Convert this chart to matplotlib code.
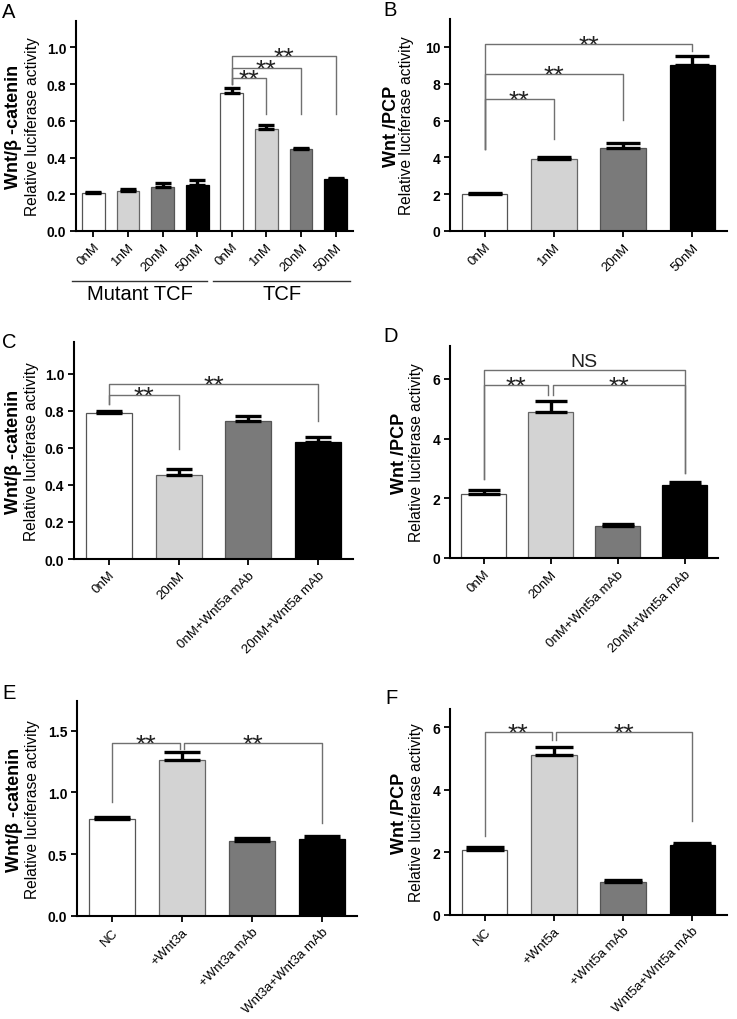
import matplotlib
matplotlib.use('Agg')
import matplotlib.pyplot as plt
from matplotlib.transforms import ScaledTranslation, blended_transform_factory

plt.rcParams['font.family'] = ['Liberation Sans', 'DejaVu Sans']

# ---- data ----
A_labels = ['0nM', '1nM', '20nM', '50nM', '0nM', '1nM', '20nM', '50nM']
A_values = [0.207, 0.22, 0.24, 0.253, 0.753, 0.558, 0.444, 0.284]
A_errors = [0.006, 0.01, 0.02, 0.023, 0.027, 0.022, 0.007, 0.006]
A_groups = ['Mutant TCF', 'TCF']

B_labels = ['0nM', '1nM', '20nM', '50nM']
B_values = [2.0, 3.91, 4.49, 9.0]
B_errors = [0.05, 0.11, 0.29, 0.5]

C_labels = ['0nM', '20nM', '0nM+Wnt5a mAb', '20nM+Wnt5a mAb']
C_values = [0.786, 0.454, 0.742, 0.629]
C_errors = [0.014, 0.029, 0.027, 0.029]

D_labels = ['0nM', '20nM', '0nM+Wnt5a mAb', '20nM+Wnt5a mAb']
D_values = [2.15, 4.89, 1.06, 2.46]
D_errors = [0.12, 0.38, 0.09, 0.09]

E_labels = ['NC', '+Wnt3a', '+Wnt3a mAb', 'Wnt3a+Wnt3a mAb']
E_values = [0.786, 1.265, 0.608, 0.622]
E_errors = [0.019, 0.059, 0.024, 0.027]

F_labels = ['NC', '+Wnt5a', '+Wnt5a mAb', 'Wnt5a+Wnt5a mAb']
F_values = [2.07, 5.11, 1.05, 2.24]
F_errors = [0.09, 0.27, 0.07, 0.06]

# significance brackets: (bar i, bar j, height, left leg bottom, right leg bottom, text)
A_sig = [(4, 5, 0.836, 0.80, 0.64, '**'), (4, 6, 0.89, 0.80, 0.64, '**'), (4, 7, 0.953, 0.80, 0.64, '**')]
B_sig = [(0, 1, 7.18, 4.45, 5.0, '**'), (0, 2, 8.53, 4.45, 6.05, '**'), (0, 3, 10.18, 4.45, 9.76, '**')]
C_sig = [(0, 1, 0.886, 0.838, 0.595, '**'), (0, 3, 0.946, 0.838, 0.742, '**')]
D_sig = [(0, 1, 5.81, 2.66, 5.47, '**'), (1, 3, 5.81, 5.47, 2.83, '**'), (0, 3, 6.31, 2.66, 2.83, 'NS')]
E_sig = [(0, 1, 1.403, 0.919, 1.351, '**'), (1, 3, 1.403, 1.351, 0.754, '**')]
F_sig = [(0, 1, 5.86, 2.53, 5.59, '**'), (1, 3, 5.86, 5.59, 3.01, '**')]

bar_colors = ['white', '#d3d3d3', '#7a7a7a', 'black']
edge_colors = ['#555555', '#666666', '#555555', 'black']

W, H = 737, 1020
fig = plt.figure(figsize=(W / 100, H / 100), dpi=100)


def add_axes(l, t, r, b):
    return fig.add_axes([l / W, 1 - b / H, (r - l) / W, (b - t) / H])


def panel(ax, labels, values, errors, ylim, yticks, fmt, capsize, top, off1, off2):
    n = len(values)
    x = list(range(n))
    cols = [bar_colors[i % 4] for i in x]
    ecols = [edge_colors[i % 4] for i in x]
    ax.bar(x, values, width=0.66, color=cols, edgecolor=ecols, linewidth=0.9, zorder=2)
    ax.errorbar(x, values, yerr=[[0] * n, errors], fmt='none', ecolor='black',
                elinewidth=2.4, capsize=capsize, capthick=2.4, zorder=3)
    ax.set_xlim(-0.5, n - 0.5)
    ax.set_ylim(0, ylim)
    ax.set_yticks(yticks)
    ax.set_yticklabels([fmt.format(v) for v in yticks], fontweight='bold', fontsize=10)
    ax.set_xticks(x)
    ax.set_xticklabels(labels, rotation=45, ha='right', rotation_mode='anchor', fontsize=9.5)
    for s in ['top', 'right']:
        ax.spines[s].set_visible(False)
    for s in ['left', 'bottom']:
        ax.spines[s].set_linewidth(1.5)
    ax.tick_params(width=1.3, length=4, pad=3)
    ax.text(0, 0.5, top, transform=ax.transAxes + ScaledTranslation(-off1 / 100, 0, fig.dpi_scale_trans),
            rotation=90, ha='center', va='center', fontweight='bold', fontsize=13)
    ax.text(0, 0.5, 'Relative luciferase activity',
            transform=ax.transAxes + ScaledTranslation(-off2 / 100, 0, fig.dpi_scale_trans),
            rotation=90, ha='center', va='center', fontsize=11.2)


def brackets(ax, sig):
    g = 0.03
    for k, (i, j, y, yl, yr, txt) in enumerate(sig):
        xl, xr = i, j
        for m, (i2, j2, y2, _, _, _) in enumerate(sig):
            if m != k and y2 == y:
                if i2 == j:
                    xr = j - g
                if j2 == i:
                    xl = i + g
        ax.plot([xl, xl, xr, xr], [yl, y, y, yr], color='#707070', lw=1.0, clip_on=False, zorder=4)
        if txt == 'NS':
            ax.annotate(txt, ((xl + xr) / 2, y), xytext=(0, 0), textcoords='offset points',
                        ha='center', va='bottom', fontsize=14, color='#222222')
        else:
            ax.annotate(txt, ((xl + xr) / 2, y), xytext=(0, -6.5), textcoords='offset points',
                        ha='center', va='baseline', fontsize=19, color='#222222')


axA = add_axes(76, 22, 353, 232)
panel(axA, A_labels, A_values, A_errors, 1.144, [0, 0.2, 0.4, 0.6, 0.8, 1.0], '{:.1f}', 5.5, 'Wnt/β -catenin', 62, 43)
brackets(axA, A_sig)
tr = blended_transform_factory(axA.transData, axA.transAxes)
for (x0, x1), name in zip([(-0.62, 3.29), (3.46, 7.42)], A_groups):
    axA.plot([x0, x1], [-0.238, -0.238], color='#333333', lw=1.0, transform=tr, clip_on=False)
    axA.text((x0 + x1) / 2, -0.30, name, transform=tr, ha='center', va='center', fontsize=14.5)

axB = add_axes(450, 20, 727, 232)
panel(axB, B_labels, B_values, B_errors, 11.52, [0, 2, 4, 6, 8, 10], '{:d}', 12.3, 'Wnt /PCP', 58, 43)
brackets(axB, B_sig)

axC = add_axes(74, 343, 353, 560)
panel(axC, C_labels, C_values, C_errors, 1.17, [0, 0.2, 0.4, 0.6, 0.8, 1.0], '{:.1f}', 9.5, 'Wnt/β -catenin', 60, 42)
brackets(axC, C_sig)

axD = add_axes(450, 347, 718, 559)
panel(axD, D_labels, D_values, D_errors, 7.1, [0, 2, 4, 6], '{:d}', 11.5, 'Wnt /PCP', 50, 34)
brackets(axD, D_sig)

axE = add_axes(77, 702, 357, 917)
panel(axE, E_labels, E_values, E_errors, 1.74, [0, 0.5, 1.0, 1.5], '{:.1f}', 13, 'Wnt/β -catenin', 62, 44)
brackets(axE, E_sig)

axF = add_axes(450, 710, 727, 916)
panel(axF, F_labels, F_values, F_errors, 6.58, [0, 2, 4, 6], '{:d}', 13.5, 'Wnt /PCP', 50, 33)
brackets(axF, F_sig)

for letter, (px, py) in zip('ABCDEF', [(2, 3), (383, 1), (2, 333), (383, 327), (2, 684), (385, 689)]):
    fig.text(px / W, 1 - py / H, letter, ha='left', va='top', fontsize=14.5)

fig.savefig('out.png', dpi=100)
